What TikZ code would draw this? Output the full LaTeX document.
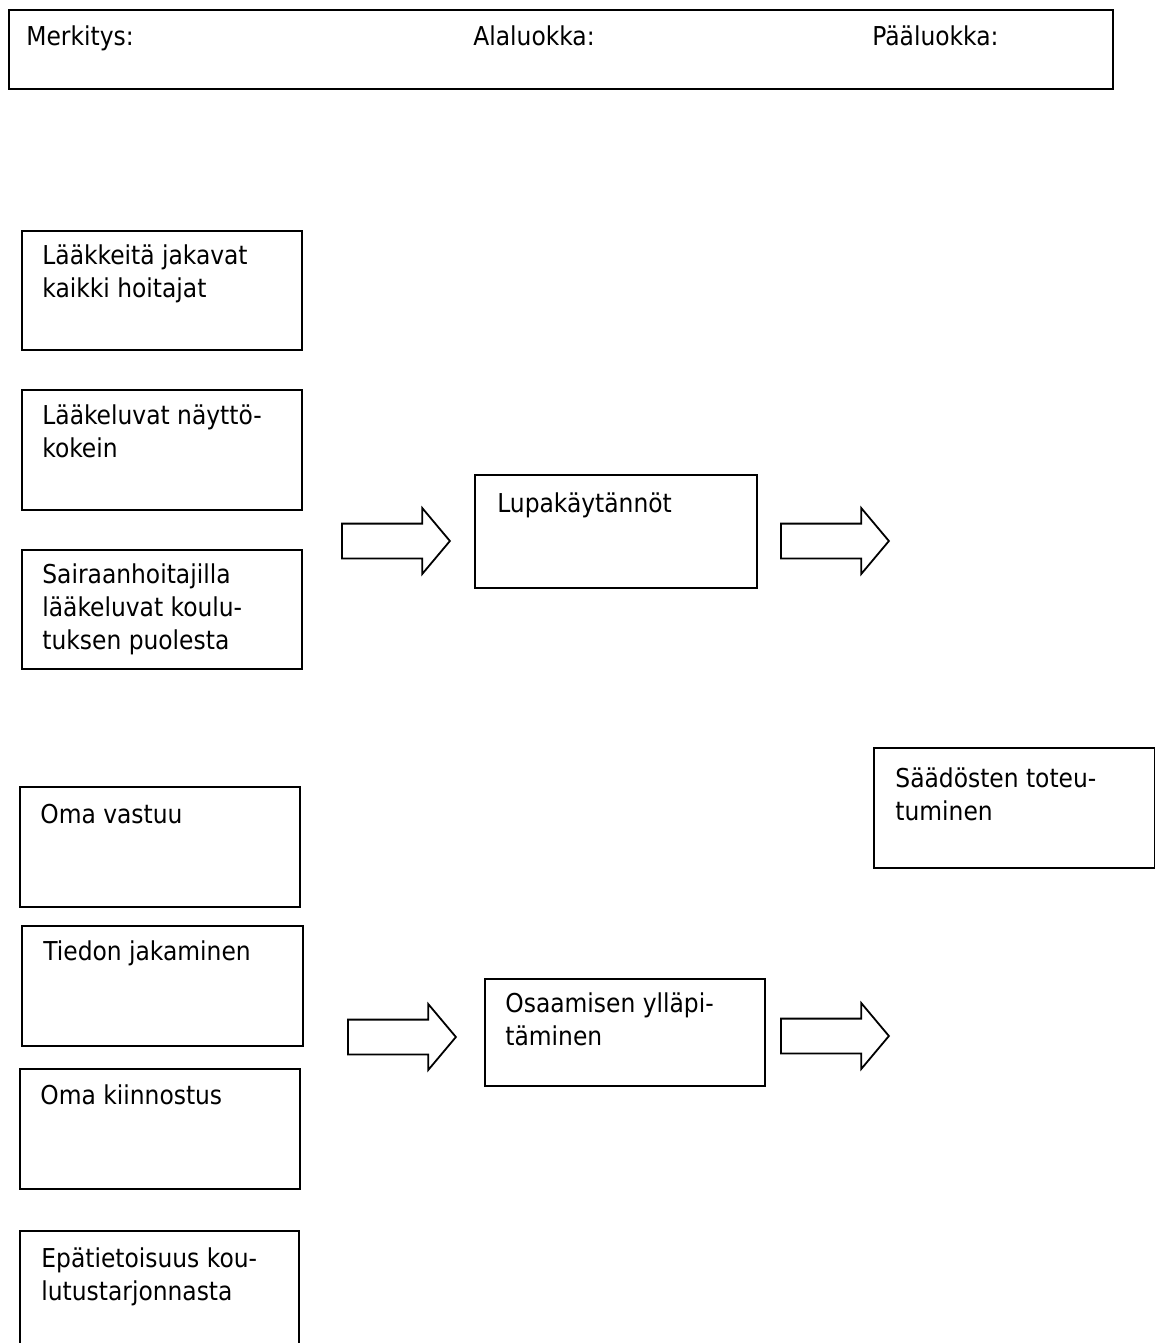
\documentclass[tikz,border=0pt]{standalone}
\usepackage{fontspec}
\setmainfont{DejaVu Sans Condensed}
\usetikzlibrary{shapes.arrows}
% monirivinen teksti, perusviiva ensimmäisellä rivillä
\newcommand\rivit[1]{\vtop{\halign{##\hfil\cr#1\crcr}}}

\begin{document}
\begin{tikzpicture}[x=0.5pt,y=-0.5pt,
    box/.style={draw, line width=0.9pt, anchor=north west, inner sep=0pt},
    txt/.style={anchor=base west, inner sep=0pt, font=\fontsize{13}{16.5}\selectfont},
    blockarrow/.style={draw, line width=0.9pt, single arrow, anchor=tail, inner xsep=0pt, inner ysep=8.25pt,
        single arrow head extend=7.75pt, single arrow tip angle=100, minimum height=54pt}]
  \clip (0,0) rectangle (1155,1343);
  % otsikkorivi
  \node[box, line width=1pt, minimum width=552pt, minimum height=39.5pt] (head) at (8,9) {};
  \node[txt] (merk) at ([shift={(18,37)}]head.north west) {Merkitys:};
  \node[txt] (ala) at ([shift={(465,37)}]head.north west) {Alaluokka:};
  \node[txt] (paa) at ([shift={(864,37)}]head.north west) {Pääluokka:};
  % lupakäytännöt
  \node[box, minimum width=140pt, minimum height=59.5pt] (b1) at (21,230) {};
  \node[txt] (b1t) at ([shift={(21,34)}]b1.north west) {\rivit{Lääkkeitä jakavat\cr kaikki hoitajat}};
  \node[box, minimum width=140pt, minimum height=60pt] (b2) at (21,389) {};
  \node[txt] (b2t) at ([shift={(21,35)}]b2.north west) {\rivit{Lääkeluvat näyttö-\cr kokein}};
  \node[box, minimum width=140pt, minimum height=59.5pt] (b3) at (21,549) {};
  \node[txt] (b3t) at ([shift={(21,34)}]b3.north west) {\rivit{Sairaanhoitajilla\cr lääkeluvat koulu-\cr tuksen puolesta}};
  \node[blockarrow] (a1) at (341,541) {};
  \node[box, minimum width=141pt, minimum height=56.5pt] (lupa) at (474,474) {};
  \node[txt] (lupat) at ([shift={(23,38)}]lupa.north west) {Lupakäytännöt};
  \node[blockarrow] (a2) at (780,541) {};
  % pääluokka
  \node[box, minimum width=140.5pt, minimum height=60pt] (saad) at (873,747) {};
  \node[txt] (saadt) at ([shift={(22,40)}]saad.north west) {\rivit{Säädösten toteu-\cr tuminen}};
  % osaamisen ylläpitäminen
  \node[box, minimum width=140pt, minimum height=60pt] (c1) at (19,786) {};
  \node[txt] (c1t) at ([shift={(21,37)}]c1.north west) {Oma vastuu};
  \node[box, minimum width=140.5pt, minimum height=60pt] (c2) at (21,925) {};
  \node[txt] (c2t) at ([shift={(22,35)}]c2.north west) {Tiedon jakaminen};
  \node[box, minimum width=140pt, minimum height=60pt] (c3) at (19,1068) {};
  \node[txt] (c3t) at ([shift={(21,36)}]c3.north west) {Oma kiinnostus};
  \node[box, minimum width=139.5pt, minimum height=60pt] (c4) at (19,1230) {};
  \node[txt] (c4t) at ([shift={(22,37)}]c4.north west) {\rivit{Epätietoisuus kou-\cr lutustarjonnasta}};
  \node[blockarrow] (a3) at (347,1037) {};
  \node[box, minimum width=140pt, minimum height=53.5pt] (osa) at (484,978) {};
  \node[txt] (osat) at ([shift={(21,34)}]osa.north west) {\rivit{Osaamisen ylläpi-\cr täminen}};
  \node[blockarrow] (a4) at (780,1036) {};
\end{tikzpicture}
\end{document}
